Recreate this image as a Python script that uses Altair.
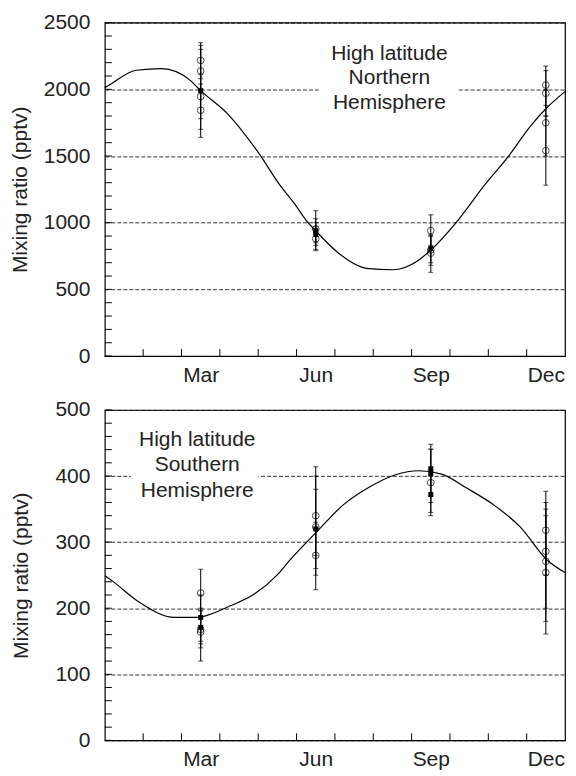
import altair as alt
import pandas as pd

# ---------------- data ----------------
month_label_pos = [2.5, 5.5, 8.5, 11.5]
month_labels = ["Mar", "Jun", "Sep", "Dec"]
month_bounds = list(range(1, 12))

# top panel (Northern Hemisphere)
top_curve_month = [0, 0.18, 0.82, 1.48, 2.22, 2.5, 3.22, 4.0, 4.6, 4.94, 5.24, 5.51,
                   6.13, 6.82, 7.5, 8.19, 8.5, 9.22, 9.9, 10.54, 11.1, 11.52, 12.0]
top_curve_val = [2012, 2044, 2143, 2155, 2069, 1990, 1811, 1527, 1268, 1145, 1022, 936,
                 763, 658, 647, 721, 795, 1022, 1281, 1503, 1725, 1860, 1983]

top_open_month = [2.5, 2.5, 2.5, 2.5, 5.5, 5.5, 8.5, 8.5, 8.5, 11.5, 11.5, 11.5, 11.5]
top_open_val = [2217, 2138, 1946, 1843, 953, 880, 941, 795, 771, 2032, 1970, 1749, 1540]
top_open_lo = [2080, 1990, 1780, 1640, 830, 790, 830, 680, 628, 1880, 1800, 1500, 1281]
top_open_hi = [2350, 2330, 2110, 2040, 1090, 970, 1059, 910, 900, 2175, 2140, 2000, 1800]

top_fill_month = [2.5, 5.5, 5.5, 8.5]
top_fill_val = [1990, 940, 911, 806]
top_fill_lo = [1700, 850, 800, 700]
top_fill_hi = [2300, 1030, 1000, 900]

top_label_lines = ["High latitude", "Northern", "Hemisphere"]
top_label_month = [7.42, 7.42, 7.42]
top_label_val = [2266, 2086, 1897]
top_label_box = [5.58, 9.23, 1780, 2380]

# bottom panel (Southern Hemisphere)
bot_curve_month = [0, 0.2, 0.85, 1.82, 2.43, 2.53, 3.29, 3.89, 4.49, 4.83, 5.55, 6.21,
                   6.89, 7.58, 8.18, 8.78, 9.46, 10.15, 10.83, 11.53, 12.0]
bot_curve_val = [249, 241, 211, 186, 186, 187, 204, 221, 250, 273, 317, 356,
                 383, 402, 408, 403, 381, 356, 323, 273, 254]

bot_open_month = [2.5, 2.5, 2.5, 5.5, 5.5, 5.5, 8.5, 11.5, 11.5, 11.5, 11.5]
bot_open_val = [223, 168, 164, 340, 323, 280, 390, 318, 286, 271, 254]
bot_open_lo = [185, 140, 120, 280, 250, 228, 340, 250, 200, 180, 161]
bot_open_hi = [259, 196, 200, 414, 400, 330, 441, 377, 360, 350, 340]

bot_fill_month = [2.5, 2.5, 5.5, 8.5, 8.5, 8.5]
bot_fill_val = [186, 171, 320, 411, 404, 372]
bot_fill_lo = [150, 146, 260, 370, 360, 345]
bot_fill_hi = [220, 197, 380, 448, 440, 400]

bot_label_lines = ["High latitude", "Southern", "Hemisphere"]
bot_label_month = [2.41, 2.41, 2.41]
bot_label_val = [454, 416, 378]
bot_label_box = [0.68, 4.0, 360, 480]

FONT = "Liberation Sans"
FS = 21
W = 461


def panel(curve_m, curve_v, om, ov, olo, ohi, fm, fv, flo, fhi,
          lab_lines, lab_m, lab_v, box, ymax, ylab_step, yminor_step, H, tpad):
    xscale = alt.Scale(domain=[0, 12], nice=False, zero=False)
    yscale = alt.Scale(domain=[0, ymax], nice=False)
    label_map = "{" + ",".join(f"'{p}':'{l}'" for p, l in zip(month_label_pos, month_labels)) + "}"
    xaxis = alt.Axis(title=None, values=month_label_pos,
                     labelExpr=f"{label_map}[toString(datum.value)]",
                     ticks=False, domain=False, grid=False, labelPadding=8)
    yaxis = alt.Axis(title="Mixing ratio (pptv)", values=list(range(0, ymax + 1, ylab_step)),
                     format="d", ticks=False, domain=False, grid=True, gridDash=[4, 2],
                     gridColor="black", gridWidth=0.8, labelPadding=15, titlePadding=tpad)

    def X(f):
        return alt.X(f, type="quantitative", scale=xscale, axis=xaxis)

    def Y(f):
        return alt.Y(f, type="quantitative", scale=yscale, axis=yaxis)

    box_df = pd.DataFrame({"m1": [box[0]], "m2": [box[1]], "v1": [box[2]], "v2": [box[3]]})
    rect = alt.Chart(box_df).mark_rect(color="white").encode(
        x=X("m1"), x2="m2", y=Y("v1"), y2="v2")

    yt = pd.DataFrame({"v": list(range(0, ymax + 1, yminor_step))})
    yticks = alt.Chart(yt).mark_rule(color="black", strokeWidth=1).encode(
        x=alt.value(0), x2=alt.value(7), y=Y("v"))

    xt = pd.DataFrame({"m": month_bounds})
    xticks = alt.Chart(xt).mark_rule(color="black", strokeWidth=1).encode(
        x=X("m"), y=alt.value(H), y2=alt.value(H - 7))

    cdf = pd.DataFrame({"m": curve_m, "v": curve_v})
    curve = alt.Chart(cdf).mark_line(color="black", strokeWidth=1.2,
                                     interpolate="monotone").encode(x=X("m"), y=Y("v"))

    odf = pd.DataFrame({"m": om, "v": ov, "lo": olo, "hi": ohi})
    fdf = pd.DataFrame({"m": fm, "v": fv, "lo": flo, "hi": fhi})
    alldf = pd.concat([odf, fdf], ignore_index=True)

    bars = alt.Chart(alldf).mark_rule(color="black", strokeWidth=1).encode(
        x=X("m"), y=Y("lo"), y2="hi")
    caps = alt.Chart(alldf).transform_fold(["lo", "hi"], as_=["k", "e"]).mark_tick(
        color="black", orient="horizontal", size=5, thickness=1).encode(
        x=X("m"), y=Y("e"))

    opens = alt.Chart(odf).mark_point(shape="circle", filled=False, color="black",
                                      strokeWidth=1, size=45).encode(x=X("m"), y=Y("v"))
    fills = alt.Chart(fdf).mark_square(color="black", size=25, opacity=1).encode(
        x=X("m"), y=Y("v"))

    ldf = pd.DataFrame({"t": lab_lines, "m": lab_m, "v": lab_v})
    text = alt.Chart(ldf).mark_text(font=FONT, fontSize=FS, align="center",
                                    baseline="middle", color="#222").encode(
        x=X("m"), y=Y("v"), text="t:N")

    return alt.layer(rect, yticks, xticks, curve, bars, caps, opens, fills, text).properties(
        width=W, height=H)


top = panel(top_curve_month, top_curve_val, top_open_month, top_open_val, top_open_lo,
            top_open_hi, top_fill_month, top_fill_val, top_fill_lo, top_fill_hi,
            top_label_lines, top_label_month, top_label_val, top_label_box,
            2500, 500, 100, 334, 13)
bottom = panel(bot_curve_month, bot_curve_val, bot_open_month, bot_open_val, bot_open_lo,
               bot_open_hi, bot_fill_month, bot_fill_val, bot_fill_lo, bot_fill_hi,
               bot_label_lines, bot_label_month, bot_label_val, bot_label_box,
               500, 100, 20, 331, 23)

chart = alt.vconcat(top, bottom, spacing=12).properties(
    padding={"left": 0, "top": 2, "right": 0, "bottom": 0}
).configure_axis(
    labelFont=FONT, labelFontSize=FS, labelColor="#222",
    titleFont=FONT, titleFontSize=FS, titleFontWeight="normal", titleColor="#222"
).configure_view(stroke="black", strokeWidth=1.2)

chart.save("out.html", embed_options={"renderer": "svg", "actions": False})
